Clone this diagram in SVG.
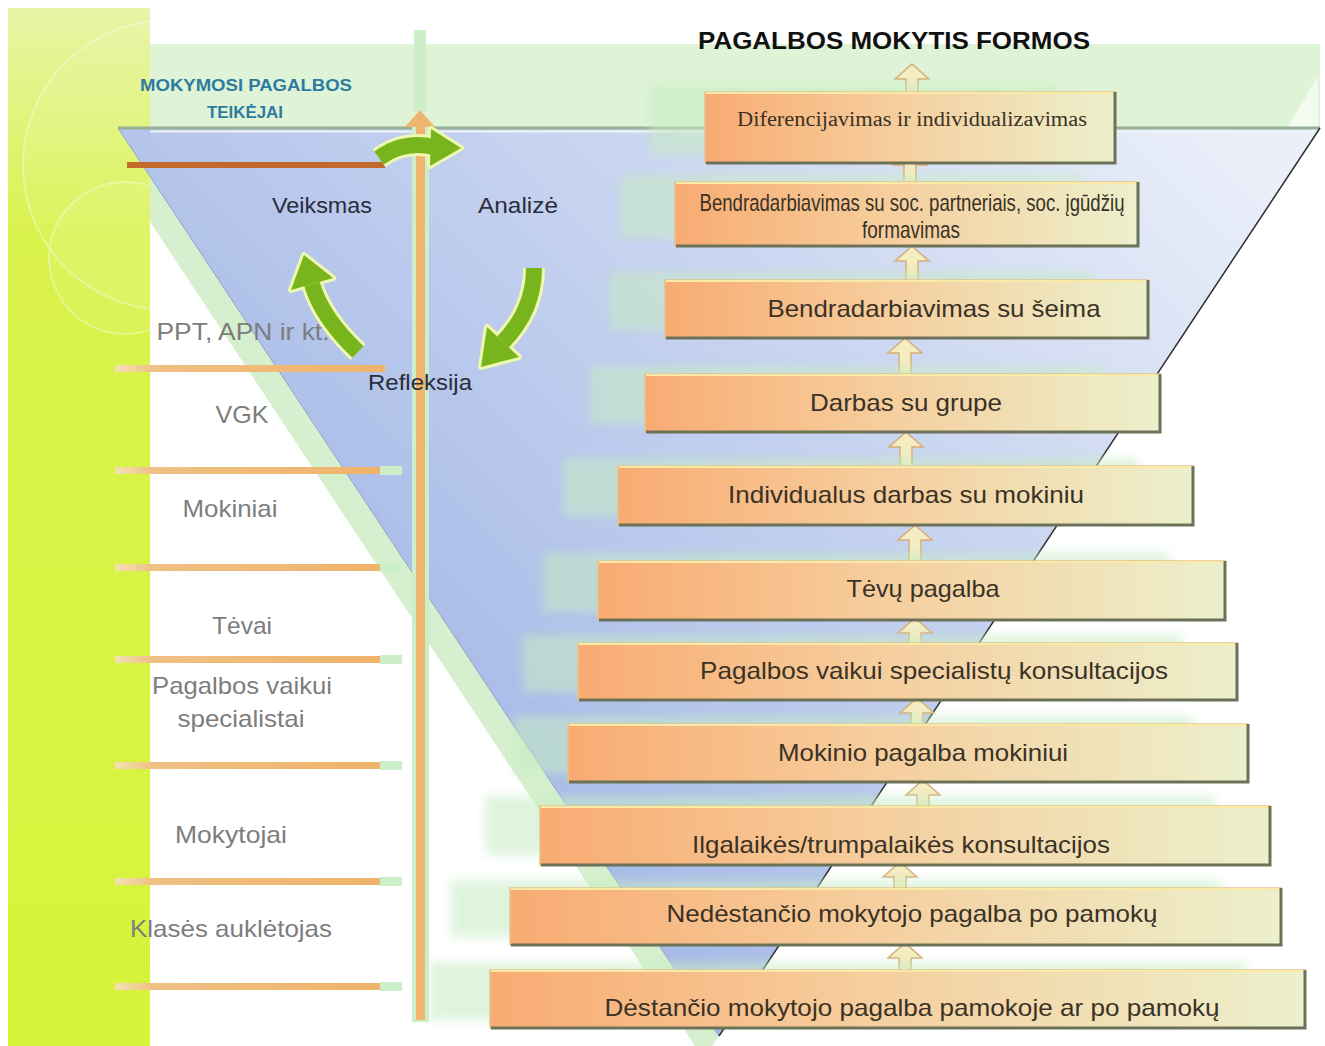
<svg xmlns="http://www.w3.org/2000/svg" width="1325" height="1046" viewBox="0 0 1325 1046">
<defs>
  <linearGradient id="lime" x1="0" y1="0" x2="0" y2="1">
    <stop offset="0" stop-color="#e6f5a6"/>
    <stop offset="0.22" stop-color="#daf24c"/>
    <stop offset="1" stop-color="#d6f43a"/>
  </linearGradient>
  <linearGradient id="blue" gradientUnits="userSpaceOnUse" x1="1250" y1="150" x2="500" y2="900">
    <stop offset="0" stop-color="#eaeff9"/>
    <stop offset="0.4" stop-color="#cbd6f1"/>
    <stop offset="1" stop-color="#a2b7e6"/>
  </linearGradient>
  <linearGradient id="boxg" x1="0" y1="0" x2="1" y2="0">
    <stop offset="0" stop-color="#f8ab72"/>
    <stop offset="0.45" stop-color="#f6cd9c"/>
    <stop offset="1" stop-color="#ecf0cc"/>
  </linearGradient>
  <linearGradient id="hline" x1="0" y1="0" x2="1" y2="0">
    <stop offset="0" stop-color="#f3e2b4"/>
    <stop offset="0.14" stop-color="#f0c084"/>
    <stop offset="1" stop-color="#efb36a"/>
  </linearGradient>
  <filter id="blur" x="-20%" y="-20%" width="140%" height="140%">
    <feGaussianBlur stdDeviation="5"/>
  </filter>
  <clipPath id="limeclip"><rect x="8" y="8" width="142" height="1038"/></clipPath>
</defs>
<style>
  .lbl { font-family: "Liberation Sans", Arial, sans-serif; font-size: 24px; fill: #7d7d7d; text-anchor: middle; }
  .cyc { font-family: "Liberation Sans", Arial, sans-serif; font-size: 22px; fill: #2b2d3a; text-anchor: middle; }
  .bt { font-family: "Liberation Sans", Arial, sans-serif; font-size: 24px; fill: #3a3226; text-anchor: middle; }
  .box { fill: url(#boxg); stroke: #e2c48e; stroke-width: 1.5; }
  .edge { fill: none; stroke: #6c7257; stroke-width: 3; }
  .top { fill: none; stroke: #f9eaa8; stroke-width: 2; }
  .ghost { fill: #c6ecc2; opacity: 0.55; filter: url(#blur); }
  .up { fill: #f4ecc2; stroke: #d8ad76; stroke-width: 1.5; }
  .gline { fill: #ccefca; }
  .hl { fill: url(#hline); }
  .garrow-o { fill: none; stroke: #eef8b0; stroke-width: 22; }
  .garrow { fill: none; stroke: #78b41b; stroke-width: 16; }
  .ghead-o { fill: #eef8b0; stroke: #eef8b0; stroke-width: 6; stroke-linejoin: round; }
  .ghead { fill: #78b41b; }
</style>

<rect x="0" y="0" width="1325" height="1046" fill="#ffffff"/>

<g id="background">
  <rect x="150" y="44" width="1170" height="84" fill="#dff3d6"/>
  <polygon points="1287,128 1318,76 1318,128" fill="#f3faf0"/>
  <polygon points="88,128 118,128 719,1036 712,1046 695,1046" fill="#d6f0cf"/>
  <rect x="8" y="8" width="142" height="1038" fill="url(#lime)"/>
  <g clip-path="url(#limeclip)" fill="#ffffff" fill-opacity="0.08" stroke="#ffffff" stroke-opacity="0.35" stroke-width="2">
    <circle cx="168" cy="165" r="145"/>
    <circle cx="125" cy="258" r="76"/>
  </g>
  <polygon points="118,128 1320,128 719,1036" fill="url(#blue)"/>
  <line x1="118" y1="128" x2="719" y2="1036" stroke="#8fa4c8" stroke-width="1"/>
  <line x1="118" y1="128" x2="1320" y2="128" stroke="#98b096" stroke-width="3"/>
  <line x1="150" y1="131.5" x2="1316" y2="131.5" stroke="#eef4fa" stroke-width="2"/>
  <line x1="1320" y1="128" x2="719" y2="1036" stroke="#2e2e2e" stroke-width="1.5"/>
</g>

<g id="axis">
  <rect class="gline" x="414" y="30" width="12" height="82"/>
  <rect class="gline" x="412" y="120" width="17" height="902"/>
  <rect x="416" y="122" width="9" height="898" fill="#efb56e"/>
  <polygon points="405,127 435,127 420,110" fill="#efb56e"/>
</g>

<g id="connectors">
  <rect x="127" y="162" width="258" height="6" fill="#c2692b"/>
  <rect class="hl" x="115" y="365" width="270" height="7"/>
  <rect class="hl" x="115" y="467" width="265" height="7"/>
  <rect class="hl" x="115" y="564" width="265" height="7"/>
  <rect class="hl" x="115" y="656" width="265" height="7"/>
  <rect class="hl" x="115" y="762" width="265" height="7"/>
  <rect class="hl" x="115" y="878" width="265" height="7"/>
  <rect class="hl" x="115" y="983" width="265" height="7"/>
  <g class="gline">
    <rect x="380" y="466" width="22" height="9"/>
    <rect x="380" y="563" width="22" height="9"/>
    <rect x="380" y="655" width="22" height="9"/>
    <rect x="380" y="761" width="22" height="9"/>
    <rect x="380" y="877" width="22" height="9"/>
    <rect x="380" y="982" width="22" height="9"/>
  </g>
  <g id="up-arrows">
    <path class="up" d="M912,64 L929,79 L918,79 L918,94 L906,94 L906,79 L895,79 Z"/>
    <path class="up" d="M910,150 L927,165 L916,165 L916,184 L904,184 L904,165 L893,165 Z"/>
    <path class="up" d="M912,246 L929,261 L918,261 L918,282 L906,282 L906,261 L895,261 Z"/>
    <path class="up" d="M905,338 L922,353 L911,353 L911,376 L899,376 L899,353 L888,353 Z"/>
    <path class="up" d="M906,432 L923,447 L912,447 L912,468 L900,468 L900,447 L889,447 Z"/>
    <path class="up" d="M915,525 L932,540 L921,540 L921,563 L909,563 L909,540 L898,540 Z"/>
    <path class="up" d="M915,618 L932,633 L921,633 L921,645 L909,645 L909,633 L898,633 Z"/>
    <path class="up" d="M917,698 L934,713 L923,713 L923,726 L911,726 L911,713 L900,713 Z"/>
    <path class="up" d="M923,780 L940,795 L929,795 L929,808 L917,808 L917,795 L906,795 Z"/>
    <path class="up" d="M900,862 L917,877 L906,877 L906,890 L894,890 L894,877 L883,877 Z"/>
    <path class="up" d="M905,943 L922,958 L911,958 L911,972 L899,972 L899,958 L888,958 Z"/>
  </g>
  <g id="cycle-arrows">
    <path class="garrow-o" d="M379,158 Q404,140 434,147"/>
    <polygon class="ghead-o" points="431,129 461,148 430,166"/>
    <path class="garrow" d="M379,158 Q404,140 434,147"/>
    <polygon class="ghead" points="431,129 461,148 430,166"/>

    <path class="garrow-o" d="M534,268 Q534,310 503,342"/>
    <polygon class="ghead-o" points="519,357 487,327 481,367"/>
    <path class="garrow" d="M534,268 Q534,310 503,342"/>
    <polygon class="ghead" points="519,357 487,327 481,367"/>
  </g>
</g>

<g id="ghosts">
  <rect class="ghost" x="650" y="84" width="410" height="71"/>
  <rect class="ghost" x="620" y="174" width="463" height="64"/>
  <rect class="ghost" x="610" y="272" width="483" height="58"/>
  <rect class="ghost" x="590" y="366" width="515" height="58"/>
  <rect class="ghost" x="563" y="458" width="575" height="59"/>
  <rect class="ghost" x="543" y="553" width="627" height="59"/>
  <rect class="ghost" x="523" y="635" width="659" height="57"/>
  <rect class="ghost" x="513" y="716" width="680" height="58"/>
  <rect class="ghost" x="485" y="796" width="730" height="59"/>
  <rect class="ghost" x="450" y="880" width="771" height="57"/>
  <rect class="ghost" x="430" y="962" width="815" height="58"/>
</g>

<g id="title">
  <text x="894" y="49" font-family="Liberation Sans, Arial, sans-serif" font-size="24" font-weight="bold" fill="#111111" text-anchor="middle" textLength="392" lengthAdjust="spacingAndGlyphs">PAGALBOS MOKYTIS FORMOS</text>
</g>

<g id="providers-title">
  <text x="246" y="91" font-family="Liberation Sans, Arial, sans-serif" font-size="16" font-weight="bold" fill="#2d7ca0" text-anchor="middle" textLength="212" lengthAdjust="spacingAndGlyphs">MOKYMOSI PAGALBOS</text>
  <text x="245" y="118" font-family="Liberation Sans, Arial, sans-serif" font-size="16" font-weight="bold" fill="#2d7ca0" text-anchor="middle" textLength="76" lengthAdjust="spacingAndGlyphs">TEIKĖJAI</text>
</g>

<g id="providers">
  <text class="lbl" x="243" y="340" textLength="173" lengthAdjust="spacingAndGlyphs">PPT, APN ir kt.</text>
  <text class="lbl" x="242" y="423" textLength="53" lengthAdjust="spacingAndGlyphs">VGK</text>
  <text class="lbl" x="230" y="517" textLength="95" lengthAdjust="spacingAndGlyphs">Mokiniai</text>
  <text class="lbl" x="242" y="634" textLength="60" lengthAdjust="spacingAndGlyphs">Tėvai</text>
  <text class="lbl" x="242" y="694" textLength="180" lengthAdjust="spacingAndGlyphs">Pagalbos vaikui</text>
  <text class="lbl" x="241" y="727" textLength="127" lengthAdjust="spacingAndGlyphs">specialistai</text>
  <text class="lbl" x="231" y="843" textLength="112" lengthAdjust="spacingAndGlyphs">Mokytojai</text>
  <text class="lbl" x="231" y="937" textLength="202" lengthAdjust="spacingAndGlyphs">Klasės auklėtojas</text>
</g>

<g id="cycle">
  <text class="cyc" x="322" y="213" textLength="100" lengthAdjust="spacingAndGlyphs">Veiksmas</text>
  <text class="cyc" x="518" y="213" textLength="80" lengthAdjust="spacingAndGlyphs">Analizė</text>
  <text class="cyc" x="420" y="390" textLength="104" lengthAdjust="spacingAndGlyphs">Refleksija</text>
  <g id="cycle-arrow-up">
    <path class="garrow-o" d="M358,352 Q322,318 312,284"/>
    <polygon class="ghead-o" points="333,278 291,290 304,255"/>
    <path class="garrow" d="M358,352 Q322,318 312,284"/>
    <polygon class="ghead" points="333,278 291,290 304,255"/>
  </g>
</g>

<g id="box1">
  <rect class="box" x="705" y="92" width="410" height="71"/>
  <polyline class="top" points="706,93 1114,93"/>
  <polyline class="edge" points="706,163 1115,163 1115,92"/>
  <text x="912" y="126" font-family="Liberation Serif, 'Times New Roman', serif" font-size="20" fill="#3a3226" text-anchor="middle" textLength="350" lengthAdjust="spacingAndGlyphs">Diferencijavimas ir individualizavimas</text>
</g>
<g id="box2">
  <rect class="box" x="675" y="182" width="463" height="64"/>
  <polyline class="top" points="676,183 1137,183"/>
  <polyline class="edge" points="676,246 1138,246 1138,182"/>
  <text class="bt" x="912" y="211" font-size="14" textLength="425" lengthAdjust="spacingAndGlyphs">Bendradarbiavimas su soc. partneriais, soc. įgūdžių</text>
  <text class="bt" x="911" y="238" font-size="14" textLength="98" lengthAdjust="spacingAndGlyphs">formavimas</text>
</g>
<g id="box3">
  <rect class="box" x="665" y="280" width="483" height="58"/>
  <polyline class="top" points="666,281 1147,281"/>
  <polyline class="edge" points="666,338 1148,338 1148,280"/>
  <text class="bt" x="934" y="317" textLength="333" lengthAdjust="spacingAndGlyphs">Bendradarbiavimas su šeima</text>
</g>
<g id="box4">
  <rect class="box" x="645" y="374" width="515" height="58"/>
  <polyline class="top" points="646,375 1159,375"/>
  <polyline class="edge" points="646,432 1160,432 1160,374"/>
  <text class="bt" x="906" y="411" textLength="192" lengthAdjust="spacingAndGlyphs">Darbas su grupe</text>
</g>
<g id="box5">
  <rect class="box" x="618" y="466" width="575" height="59"/>
  <polyline class="top" points="619,467 1192,467"/>
  <polyline class="edge" points="619,525 1193,525 1193,466"/>
  <text class="bt" x="906" y="503" textLength="356" lengthAdjust="spacingAndGlyphs">Individualus darbas su mokiniu</text>
</g>
<g id="box6">
  <rect class="box" x="598" y="561" width="627" height="59"/>
  <polyline class="top" points="599,562 1224,562"/>
  <polyline class="edge" points="599,620 1225,620 1225,561"/>
  <text class="bt" x="923" y="597" textLength="153" lengthAdjust="spacingAndGlyphs">Tėvų pagalba</text>
</g>
<g id="box7">
  <rect class="box" x="578" y="643" width="659" height="57"/>
  <polyline class="top" points="579,644 1236,644"/>
  <polyline class="edge" points="579,700 1237,700 1237,643"/>
  <text class="bt" x="934" y="679" textLength="468" lengthAdjust="spacingAndGlyphs">Pagalbos vaikui specialistų konsultacijos</text>
</g>
<g id="box8">
  <rect class="box" x="568" y="724" width="680" height="58"/>
  <polyline class="top" points="569,725 1247,725"/>
  <polyline class="edge" points="569,782 1248,782 1248,724"/>
  <text class="bt" x="923" y="761" textLength="290" lengthAdjust="spacingAndGlyphs">Mokinio pagalba mokiniui</text>
</g>
<g id="box9">
  <rect class="box" x="540" y="806" width="730" height="59"/>
  <polyline class="top" points="541,807 1269,807"/>
  <polyline class="edge" points="541,865 1270,865 1270,806"/>
  <text class="bt" x="901" y="853" textLength="418" lengthAdjust="spacingAndGlyphs">Ilgalaikės/trumpalaikės konsultacijos</text>
</g>
<g id="box10">
  <rect class="box" x="510" y="888" width="771" height="57"/>
  <polyline class="top" points="511,889 1280,889"/>
  <polyline class="edge" points="511,945 1281,945 1281,888"/>
  <text class="bt" x="912" y="922" textLength="491" lengthAdjust="spacingAndGlyphs">Nedėstančio mokytojo pagalba po pamokų</text>
</g>
<g id="box11">
  <rect class="box" x="490" y="970" width="815" height="58"/>
  <polyline class="top" points="491,971 1304,971"/>
  <polyline class="edge" points="491,1028 1305,1028 1305,970"/>
  <text class="bt" x="912" y="1016" textLength="615" lengthAdjust="spacingAndGlyphs">Dėstančio mokytojo pagalba pamokoje ar po pamokų</text>
</g>
</svg>
